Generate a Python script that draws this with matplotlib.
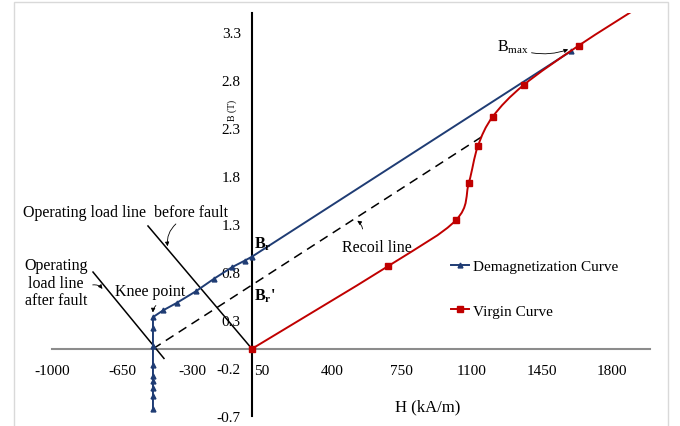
import numpy as np
import matplotlib
matplotlib.use('Agg')
import matplotlib.pyplot as plt
from matplotlib.path import Path
from matplotlib.patches import PathPatch, Rectangle
from matplotlib.lines import Line2D

plt.rcParams['font.family'] = ['Liberation Serif', 'DejaVu Serif']
plt.rcParams['mathtext.fontset'] = 'custom'
plt.rcParams['mathtext.rm'] = 'Liberation Serif'
plt.rcParams['mathtext.bf'] = 'Liberation Serif:bold'

# demagnetization curve (Bmax -> Br -> knee -> vertical drop)
demag_h = [1595, 0, -35, -100, -190, -280, -375, -445, -495,
           -495, -495, -495, -495, -495, -495, -495, -495]
demag_b = [3.10, 0.96, 0.92, 0.85, 0.73, 0.60, 0.48, 0.40, 0.33,
           0.22, 0.03, -0.17, -0.28, -0.34, -0.41, -0.49, -0.63]

# virgin curve
virgin_h = [0, 680, 1020, 1085, 1130, 1205, 1360, 1635, 1950]
virgin_b = [0, 0.86, 1.34, 1.73, 2.11, 2.42, 2.75, 3.16, 3.58]

# recoil line and operating load lines
recoil_h = [-495, 1150]
recoil_b = [0, 2.21]
load_before_h = [-520, 0]
load_before_b = [1.28, 0]
load_after_h = [-795, -440]
load_after_b = [0.80, -0.10]

x_ticks = [-1000, -650, -300, 50, 400, 750, 1100, 1450, 1800]
y_ticks = [-0.7, -0.2, 0.3, 0.8, 1.3, 1.8, 2.3, 2.8, 3.3]

blue = '#1f3c74'
red = '#c00000'
fs = 11.5


def smooth_path(xs, ys):
    # excel-like smoothed line: catmull-rom as cubic bezier segments
    pts = np.column_stack([xs, ys]).astype(float)
    n = len(pts)
    verts = [pts[0]]
    codes = [Path.MOVETO]
    for i in range(n - 1):
        p0 = pts[max(i - 1, 0)]
        p1 = pts[i]
        p2 = pts[i + 1]
        p3 = pts[min(i + 2, n - 1)]
        verts += [p1 + (p2 - p0) / 6, p2 - (p3 - p1) / 6, p2]
        codes += [Path.CURVE4] * 3
    return Path(verts, codes)


fig = plt.figure(figsize=(6.8, 4.27), dpi=100)
ax = fig.add_axes([0.0765, 0.0234, 0.879, 0.944])

fig.patches.append(Rectangle((0.0206, -0.1), 0.962, 1.093, transform=fig.transFigure,
                             fill=False, edgecolor='#d9d9d9', lw=1))

ax.plot(demag_h, demag_b, color=blue, lw=1.4, marker='^', ms=3.5, zorder=3)
ax.add_patch(PathPatch(smooth_path(virgin_h, virgin_b), fill=False,
                       edgecolor=red, lw=1.4, zorder=4))
ax.plot(virgin_h, virgin_b, ls='none', marker='s', ms=4, color=red, zorder=5)

ax.plot(recoil_h, recoil_b, color='black', lw=1.1, ls=(0, (6, 4)), zorder=2)
ax.plot(load_before_h, load_before_b, color='black', lw=1.1, zorder=2)
ax.plot(load_after_h, load_after_b, color='black', lw=1.1, zorder=2)

ax.set_xlim(-1000, 1990)
ax.set_ylim(-0.7, 3.5)
ax.set_xticks(x_ticks)
ax.set_yticks(y_ticks)
ax.set_xticklabels([str(v) for v in x_ticks])
ax.set_yticklabels([str(v) for v in y_ticks])
ax.tick_params(length=0, labelsize=11)
ax.tick_params(axis='x', pad=11)
ax.tick_params(axis='y', pad=8)

for s in ['top', 'right']:
    ax.spines[s].set_visible(False)
ax.spines['left'].set_position(('data', 0))
ax.spines['bottom'].set_position(('data', 0))
ax.spines['left'].set_color('black')
ax.spines['left'].set_linewidth(1.5)
ax.spines['bottom'].set_color('#8c8c8c')
ax.spines['bottom'].set_linewidth(1.5)
ax.spines['left'].set_zorder(1)
ax.spines['bottom'].set_zorder(1)

fig.text(0.341, 0.742, 'B (T)', rotation=90, ha='center', va='center', fontsize=7)
fig.text(0.629, 0.047, 'H (kA/m)', ha='center', va='center', fontsize=12)

arrow = dict(arrowstyle='-|>', color='black', lw=0.6, mutation_scale=6,
             connectionstyle='arc3,rad=0.3')

ax.text(-1145, 1.43, 'Operating load line  before fault', ha='left', va='center',
        fontsize=fs, clip_on=False)
ax.annotate('', xy=(-420, 1.04), xytext=(-370, 1.32), arrowprops=arrow)

ax.text(-980, 0.69, 'Operating\nload line\nafter fault', ha='center', va='center',
        fontsize=fs, linespacing=1.1, clip_on=False)
ax.annotate('', xy=(-740, 0.60), xytext=(-810, 0.66),
            arrowprops=dict(arrow, connectionstyle='arc3,rad=-0.4'))

ax.text(-685, 0.60, 'Knee point', ha='left', va='center', fontsize=fs)
ax.annotate('', xy=(-495, 0.35), xytext=(-470, 0.47), arrowprops=arrow)

ax.text(10, 1.10, r'$\mathbf{B_r}$', ha='left', va='center', fontsize=fs)
ax.text(10, 0.56, r"$\mathbf{B_r}$'", ha='left', va='center', fontsize=fs,
        fontweight='bold')

ax.text(450, 1.06, 'Recoil line', ha='left', va='center', fontsize=fs)
ax.annotate('', xy=(515, 1.35), xytext=(555, 1.22), arrowprops=arrow)

ax.text(1225, 3.15, r'$\mathrm{B}_{\mathrm{max}}$', ha='left', va='center', fontsize=fs)
ax.annotate('', xy=(1595, 3.13), xytext=(1385, 3.09),
            arrowprops=dict(arrow, connectionstyle='arc3,rad=0.15'))

handles = [Line2D([], [], color=blue, lw=1.4, marker='^', ms=3.5),
           Line2D([], [], color=red, lw=1.4, marker='s', ms=4)]
ax.legend(handles, ['Demagnetization Curve', 'Virgin Curve'], loc='upper left',
          bbox_to_anchor=(0.655, 0.407), frameon=False, fontsize=11,
          handlelength=1.2, handletextpad=0.2, labelspacing=2.0, borderpad=0)

fig.savefig('out.png', dpi=100)
